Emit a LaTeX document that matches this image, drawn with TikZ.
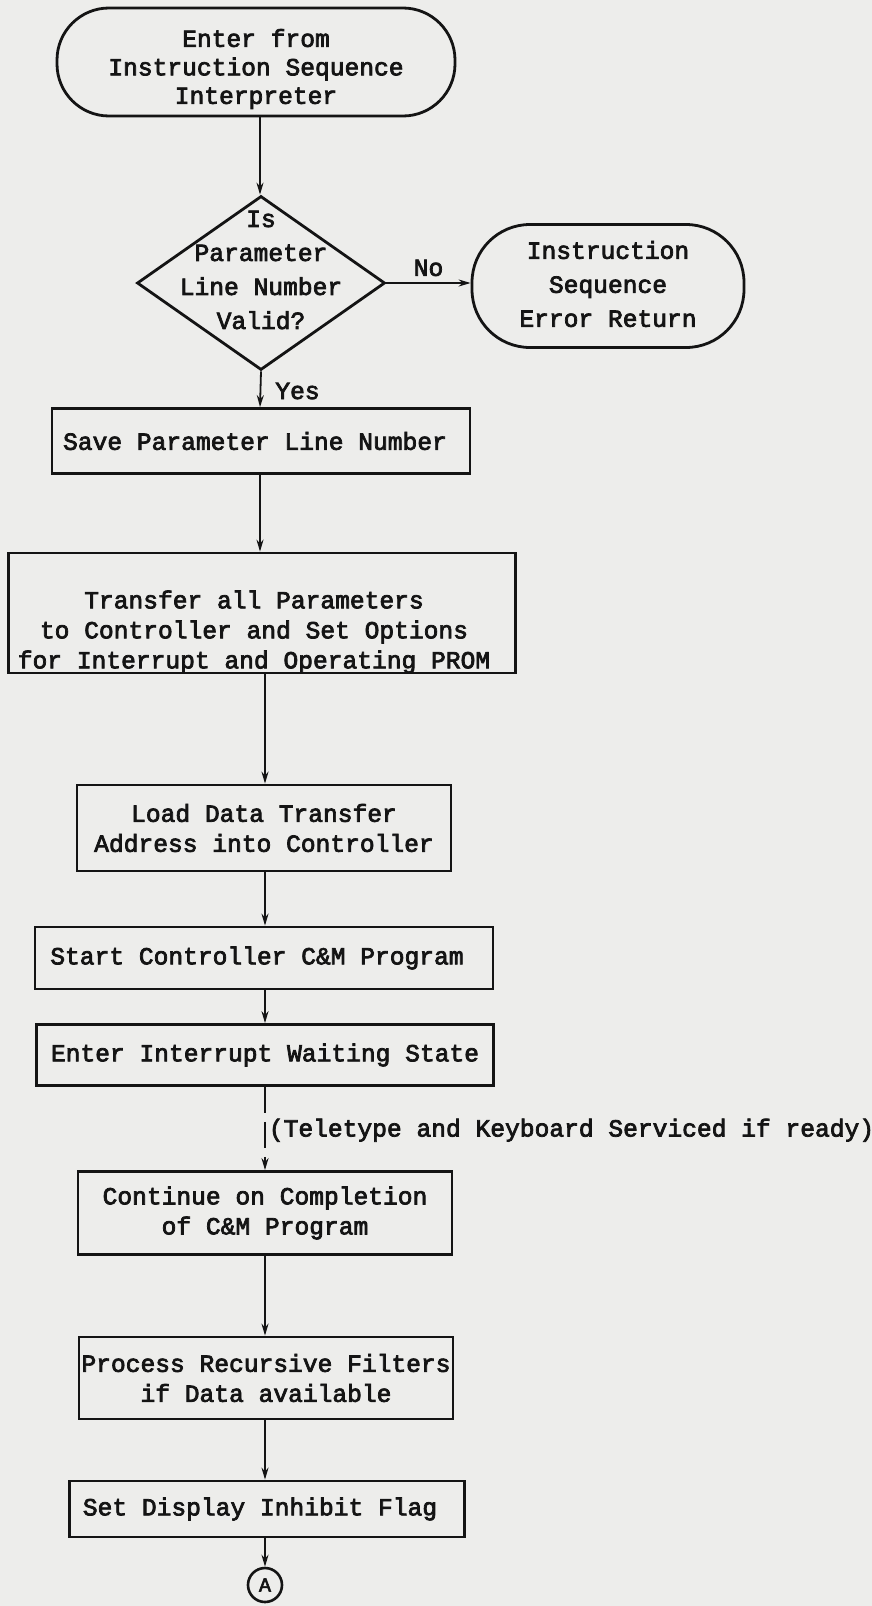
\documentclass[tikz,border=0pt]{standalone}
\usepackage{fontspec}
\setmainfont{Liberation Mono}[FakeBold=3]
\usetikzlibrary{shapes.geometric,arrows.meta}
\definecolor{paper}{RGB}{237,237,235}
\definecolor{ink}{RGB}{20,20,20}
\begin{document}
\begin{tikzpicture}[x=1pt,y=-1pt,
  every node/.style={text=ink},
  tw/.style={font=\fontsize{24.6}{30}\selectfont},
  twwide/.style={font=\fontsize{24.6}{34}\selectfont},
  proc/.style={draw=ink, line width=2.8pt, rectangle, inner sep=0pt, align=center, tw},
  term/.style={draw=ink, line width=2.8pt, rectangle, inner sep=0pt},
  label/.style={align=center, inner sep=0pt, tw},
  flow/.style={draw=ink, line width=1.8pt, -{Stealth[length=12pt,width=7pt]}},
  dflow/.style={flow, dash pattern=on 26pt off 9pt}
]
\fill[paper] (0,0) rectangle (872,1606);
\useasboundingbox (0,0) rectangle (872,1606);

\coordinate (axA) at (260,0);
\coordinate (axB) at (265,0);

% start terminal
\node[term, rounded corners=52pt, minimum width=398pt, minimum height=108pt] (start) at (256,62) {};
\node[label, font=\fontsize{24.6}{28.5}\selectfont] (startT) at (256,69) {Enter from\\Instruction Sequence\\Interpreter};

% decision
\node[draw=ink, line width=2.8pt, diamond, minimum width=248pt, minimum height=174pt, inner sep=0pt] (dec) at (261,283) {};
\node[label, twwide] (decT) at (261,270) {Is\\Parameter\\Line Number\\Valid?};

% error terminal
\node[term, rounded corners=58pt, minimum width=272pt, minimum height=123pt] (err) at (608,286) {};
\node[label, twwide] (errT) at (608,284) {Instruction\\Sequence\\Error Return};

% process boxes
\node[proc, minimum width=418pt, minimum height=65pt] (save) at (261,441) {};
\node[label] (saveT) at (255,441) {Save Parameter Line Number};
\node[proc, minimum width=507pt, minimum height=120pt] (transfer) at (262,613) {};
\node[label] (transferT) at (254,632) {Transfer all Parameters\\to Controller and Set Options\\for Interrupt and Operating PROM};
\node[proc, minimum width=374pt, minimum height=86pt] (load) at (264,828) {Load Data Transfer\\Address into Controller};
\node[proc, minimum width=458pt, minimum height=62pt] (startc) at (264,958) {};
\node[label] (startcT) at (257,958) {Start Controller C\&M Program};
\node[proc, minimum width=457pt, minimum height=61pt] (wait) at (265,1055) {Enter Interrupt Waiting State};
\node[proc, minimum width=374pt, minimum height=83pt] (cont) at (265,1213) {Continue on Completion\\of C\&M Program};
\node[proc, minimum width=374pt, minimum height=82pt] (filt) at (266,1378) {Process Recursive Filters\\if Data available};
\node[proc, minimum width=395pt, minimum height=56pt] (flag) at (267,1509) {};
\node[label] (flagT) at (260,1509) {Set Display Inhibit Flag};
\node[draw=ink, line width=2.6pt, circle, minimum size=34pt, inner sep=0pt, font=\fontsize{20}{20}\selectfont] (A) at (265,1585) {A};

% connectors
\draw[flow] (axA |- start.south) -- (axA |- dec.north);
\draw[flow] (dec.east) -- node[above=6pt, tw, inner sep=0pt] (no) {No} (dec.east -| err.west);
\draw[flow] (dec.south) -- node[pos=0.55, right=14pt, tw, inner sep=0pt] (yes) {Yes} (axA |- save.north);
\draw[flow] (axA |- save.south) -- (axA |- transfer.north);
\draw[flow] (axB |- transfer.south) -- (axB |- load.north);
\draw[flow] (axB |- load.south) -- (axB |- startc.north);
\draw[flow] (axB |- startc.south) -- (axB |- wait.north);
\draw[dflow] (axB |- wait.south) -- node[pos=0.52, right=3pt, tw, inner sep=0pt, anchor=west] (tty) {(Teletype and Keyboard Serviced if ready)} (axB |- cont.north);
\draw[flow] (axB |- cont.south) -- (axB |- filt.north);
\draw[flow] (axB |- filt.south) -- (axB |- flag.north);
\draw[flow] (axB |- flag.south) -- (A.north);
\end{tikzpicture}
\end{document}
